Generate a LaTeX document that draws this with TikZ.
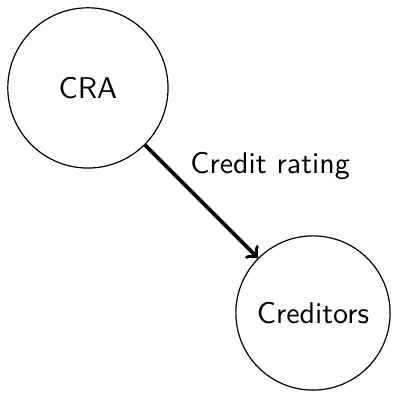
\documentclass[tikz,border=0pt]{standalone}
\usepackage{tikz}
\tikzstyle{party} = [shape=circle, draw, thin, align=center, font=\sffamily]
\tikzstyle{flow} = [->, very thick]

\begin{document}
\begin{tikzpicture}
  \useasboundingbox (0pt,0pt) rectangle (130.7pt,-131.3pt);
  \node[party, minimum size=53.4pt] (cra) at (29.3pt,-29.3pt) {CRA};
  \node[party, minimum size=51.4pt] (creditors) at (104.3pt,-104.3pt) {Creditors};
  \node[font=\sffamily] (rating) at (90pt,-55.2pt) {Credit rating};
  \draw[flow] (cra) -- (creditors);
\end{tikzpicture}
\end{document}
